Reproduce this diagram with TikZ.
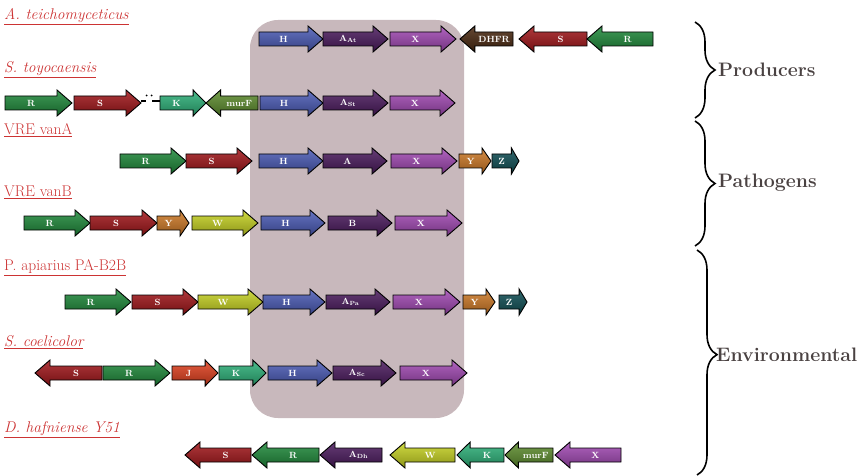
\documentclass[tikz,border=0pt]{standalone}
\usepackage{tikz}
\usetikzlibrary{decorations.pathreplacing}
\definecolor{regionC}{HTML}{C8B8BC}
\definecolor{labelC}{HTML}{CC3333}
\definecolor{groupC}{HTML}{4A4242}
\definecolor{geneR}{HTML}{1F8B3B}
\definecolor{geneS}{HTML}{A3161A}
\definecolor{geneH}{HTML}{4B5CB8}
\definecolor{geneA}{HTML}{4B1A5E}
\definecolor{geneX}{HTML}{A349B5}
\definecolor{geneD}{HTML}{4A2810}
\definecolor{geneK}{HTML}{2DB37A}
\definecolor{geneM}{HTML}{5E8E2E}
\definecolor{geneY}{HTML}{D07A26}
\definecolor{geneZ}{HTML}{0F4F55}
\definecolor{geneW}{HTML}{C8D422}
\definecolor{geneJ}{HTML}{E2401E}

% gene arrow: name, tail x, tip x, y, colour, label
\newcommand{\gene}[6]{%
  \pgfmathsetmacro\gdir{(#3>#2)?1:-1}%
  \pgfmathsetmacro\ghl{min(15,0.28*abs(#3-#2))}%
  \pgfmathsetmacro\gneck{#3-\gdir*\ghl}%
  \path[genebody, top color=#5!85!white, bottom color=#5!70!black]
    (#2,#4-7) -- (\gneck,#4-7) -- (\gneck,#4-13) -- (#3,#4)
    -- (\gneck,#4+13) -- (\gneck,#4+7) -- (#2,#4+7) -- cycle;
  \node[genelabel] (#1) at ({(#2+\gneck)/2},#4) {#6};
}

\begin{document}
\begin{tikzpicture}[
    x=1pt, y=-1pt,
    genebody/.style={draw=black, line width=0.9pt},
    genelabel/.style={text=white, font=\bfseries\fontsize{9}{10}\selectfont, inner sep=0pt},
    species/.style={anchor=west, text=labelC, font=\fontsize{15.5}{17}\selectfont, inner sep=0pt},
    group/.style={anchor=west, text=groupC, font=\bfseries\fontsize{19.5}{21}\selectfont, inner sep=0pt},
    brc/.style={decorate, decoration={brace, amplitude=20pt}, line width=1.6pt}
]
\useasboundingbox (0,0) rectangle (865,476);

% conserved core
\fill[regionC, rounded corners=28pt] (250,20) rectangle (464,418);

% species labels
\node[species] (teich) at (4,17) {\underline{\itshape A. teichomyceticus}};
\node[species] (toyo) at (4,70) {\underline{\itshape S. toyocaensis}};
\node[species] (vanA) at (4,130) {\underline{VRE vanA}};
\node[species] (vanB) at (4,192) {\underline{VRE vanB}};
\node[species] (apia) at (4,268) {\underline{P. apiarius PA-B2B}};
\node[species] (coeli) at (4,342) {\underline{\itshape S. coelicolor}};
\node[species] (hafn) at (4,430) {\underline{\itshape D. hafniense Y51}};

% A. teichomyceticus
\gene{teichH}{259}{323}{39}{geneH}{H}
\gene{teichA}{323}{388}{39}{geneA}{A\textsubscript{At}}
\gene{teichX}{390}{456}{39}{geneX}{X}
\gene{teichD}{513}{460}{39}{geneD}{DHFR}
\gene{teichS}{587}{519}{39}{geneS}{S}
\gene{teichR}{653}{587}{39}{geneR}{R}

% S. toyocaensis
\gene{toyoR}{5}{72}{103}{geneR}{R}
\gene{toyoS}{74}{141}{103}{geneS}{S}
\gene{toyoK}{160}{206}{103}{geneK}{K}
\gene{toyoM}{258}{206}{103}{geneM}{murF}
\gene{toyoH}{260}{323}{103}{geneH}{H}
\gene{toyoA}{323}{388}{103}{geneA}{A\textsubscript{St}}
\gene{toyoX}{390}{455}{103}{geneX}{X}
\coordinate (gapA) at (141,101);
\coordinate (gapB) at (146,101);
\coordinate (gapC) at (152,101);
\coordinate (gapD) at (160,101);
\draw[line width=1.6pt] (gapA) -- (gapB);
\draw[line width=1.6pt] (gapC) -- (gapD);
\fill (146.5,95.5) circle (1);
\fill (151.5,95.5) circle (1);

% VRE vanA
\gene{vanAR}{120}{186}{161}{geneR}{R}
\gene{vanAS}{186}{252}{161}{geneS}{S}
\gene{vanAH}{259}{323}{161}{geneH}{H}
\gene{vanAA}{323}{387}{161}{geneA}{A}
\gene{vanAX}{391}{457}{161}{geneX}{X}
\gene{vanAY}{459}{491}{161}{geneY}{Y}
\gene{vanAZ}{492}{519}{161}{geneZ}{Z}

% VRE vanB
\gene{vanBR}{24}{90}{223}{geneR}{R}
\gene{vanBS}{90}{157}{223}{geneS}{S}
\gene{vanBY}{157}{189}{223}{geneY}{Y}
\gene{vanBW}{192}{258}{223}{geneW}{W}
\gene{vanBH}{261}{325}{223}{geneH}{H}
\gene{vanBB}{328}{392}{223}{geneA}{B}
\gene{vanBX}{395}{462}{223}{geneX}{X}

% P. apiarius
\gene{apiaR}{65}{131}{302}{geneR}{R}
\gene{apiaS}{132}{198}{302}{geneS}{S}
\gene{apiaW}{198}{263}{302}{geneW}{W}
\gene{apiaH}{263}{325}{302}{geneH}{H}
\gene{apiaA}{326}{390}{302}{geneA}{A\textsubscript{Pa}}
\gene{apiaX}{393}{460}{302}{geneX}{X}
\gene{apiaY}{463}{495}{302}{geneY}{Y}
\gene{apiaZ}{499}{527}{302}{geneZ}{Z}

% S. coelicolor
\gene{coeliS}{102}{35}{373}{geneS}{S}
\gene{coeliR}{103}{170}{373}{geneR}{R}
\gene{coeliJ}{172}{218}{373}{geneJ}{J}
\gene{coeliK}{219}{266}{373}{geneK}{K}
\gene{coeliH}{268}{332}{373}{geneH}{H}
\gene{coeliA}{333}{396}{373}{geneA}{A\textsubscript{Sc}}
\gene{coeliX}{400}{467}{373}{geneX}{X}

% D. hafniense
\gene{hafnS}{251}{185}{455}{geneS}{S}
\gene{hafnR}{319}{252}{455}{geneR}{R}
\gene{hafnA}{382}{320}{455}{geneA}{A\textsubscript{Dh}}
\gene{hafnW}{455}{390}{455}{geneW}{W}
\gene{hafnK}{504}{457}{455}{geneK}{K}
\gene{hafnM}{553}{505}{455}{geneM}{murF}
\gene{hafnX}{621}{555}{455}{geneX}{X}

% groups
\coordinate (prodT) at (695,22);
\coordinate (prodB) at (695,118);
\coordinate (pathT) at (695,121);
\coordinate (pathB) at (695,246);
\coordinate (envT) at (697,250);
\coordinate (envB) at (697,475);
\draw[brc] (prodT) -- (prodB);
\draw[brc] (pathT) -- (pathB);
\draw[brc, decoration={aspect=0.465}] (envT) -- (envB);
\node[group] (prod) at (718,70) {Producers};
\node[group] (path) at (718,183) {Pathogens};
\node[group] (env) at (716,355) {Environmental};
\end{tikzpicture}
\end{document}
